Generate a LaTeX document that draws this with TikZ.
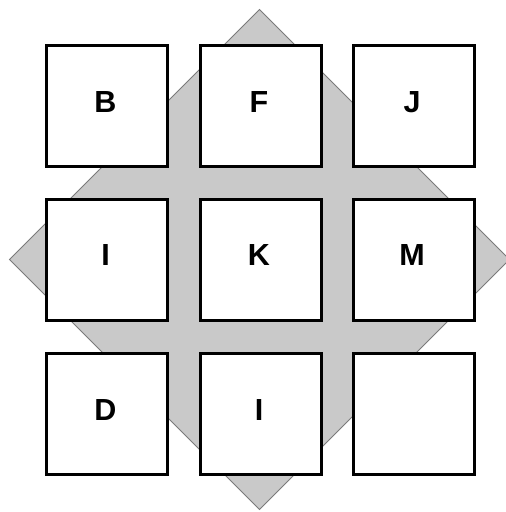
\documentclass[tikz,border=0pt]{standalone}
\usepackage{fontspec}
\setmainfont{Liberation Sans}
\definecolor{dfill}{HTML}{C9C9C9}
\definecolor{dline}{HTML}{7A7A7A}
\begin{document}
\begin{tikzpicture}[x=1pt,y=-1pt,
  sq/.style={draw=black, line width=3pt, fill=white, minimum size=121pt, inner sep=0pt, outer sep=0pt},
  lbl/.style={font=\bfseries\fontsize{30.5}{30.5}\selectfont, inner sep=0pt},
  diam/.style={fill=dfill, draw=dline, line width=0.8pt}]
\useasboundingbox (0,0) rectangle (506,512);
\begin{scope}
\clip (0,0) rectangle (506,512);
\coordinate (dt) at (259.5,9.5);
\coordinate (dr) at (509.5,259.5);
\coordinate (db) at (259.5,509.5);
\coordinate (dl) at (9.5,259.5);
\draw[diam] (dt) -- (dr) -- (db) -- (dl) -- cycle;
\end{scope}
\node[sq] (b) at (107,106) {};
\node[sq] (f) at (260.5,106) {};
\node[sq] (j) at (413.5,106) {};
\node[sq] (i1) at (107,259.5) {};
\node[sq] (k) at (260.5,259.5) {};
\node[sq] (m) at (413.5,259.5) {};
\node[sq] (d) at (107,414) {};
\node[sq] (i2) at (260.5,414) {};
\node[sq] (e) at (413.5,414) {};
\node[lbl] (lb) at ([shift={(-1.5,-4)}]b.center) {B};
\node[lbl] (lf) at ([shift={(-1.5,-4)}]f.center) {F};
\node[lbl] (lj) at ([shift={(-1.5,-4)}]j.center) {J};
\node[lbl] (li1) at ([shift={(-1.5,-4)}]i1.center) {I};
\node[lbl] (lk) at ([shift={(-1.5,-4)}]k.center) {K};
\node[lbl] (lm) at ([shift={(-1.5,-4)}]m.center) {M};
\node[lbl] (ld) at ([shift={(-1.5,-4)}]d.center) {D};
\node[lbl] (li2) at ([shift={(-1.5,-4)}]i2.center) {I};
\end{tikzpicture}
\end{document}
